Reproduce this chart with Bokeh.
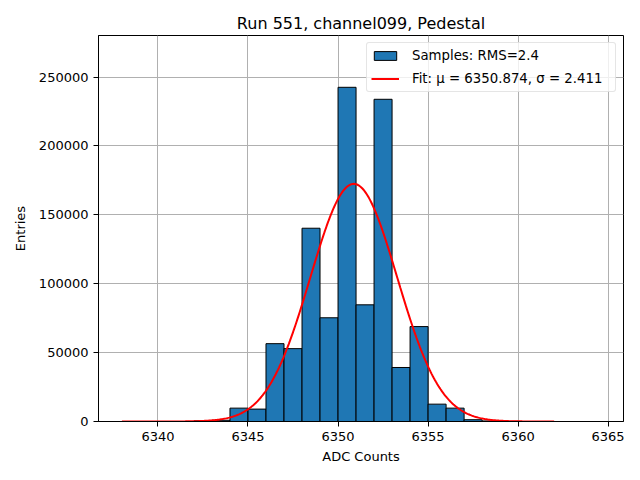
import numpy as np
from bokeh.plotting import figure
from bokeh.models import FixedTicker, Range1d, Legend, LegendItem, NumeralTickFormatter
from bokeh.embed import file_html
from bokeh.resources import INLINE

# Histogram data (bin edges at integers)
bin_left = [6342, 6343, 6344, 6345, 6346, 6347, 6348, 6349, 6350, 6351,
            6352, 6353, 6354, 6355, 6356, 6357, 6358, 6359]
counts = [500, 900, 9700, 9000, 56500, 52900, 140300, 75300, 242600, 84700,
          233900, 39200, 68900, 12600, 9700, 1300, 400, 100]

# Fit parameters
fit_mu = 6350.874
fit_sigma = 2.411
fit_amp = 172500
fit_start = 6338
fit_stop = 6362

x_ticks = [6340, 6345, 6350, 6355, 6360, 6365]
y_ticks = [0, 50000, 100000, 150000, 200000, 250000]

title = "Run 551, channel099, Pedestal"
rms_label = "Samples: RMS=2.4"
fit_label = "Fit: μ = 6350.874, σ = 2.411"

FONT = "DejaVu Sans"

p = figure(width=624, height=470, output_backend="svg", toolbar_location=None,
           x_range=Range1d(6336.7, 6365.85), y_range=Range1d(0, 280200),
           min_border_left=98, min_border_right=1, min_border_top=35, min_border_bottom=49)

p.title.text = title
p.title.align = "center"
p.title.text_font = FONT
p.title.text_font_size = "16px"
p.title.text_font_style = "normal"
p.title.text_color = "black"
p.title.standoff = 6

left = np.array(bin_left, dtype=float)
bars = p.quad(left=left, right=left + 1, bottom=0, top=counts,
              fill_color="#1f77b4", line_color="black", line_width=1)

xs = np.linspace(fit_start, fit_stop, 400)
ys = fit_amp * np.exp(-0.5 * ((xs - fit_mu) / fit_sigma) ** 2)
fit = p.line(xs, ys, line_color="red", line_width=2)

for ax in (p.xaxis[0], p.yaxis[0]):
    ax.major_label_text_font = FONT
    ax.major_label_text_font_size = "13px"
    ax.axis_label_text_font = FONT
    ax.axis_label_text_font_size = "13px"
    ax.axis_label_text_font_style = "normal"
    ax.axis_label_text_color = "black"
    ax.major_tick_out = 5
    ax.major_tick_in = 0
    ax.minor_tick_out = 0
    ax.minor_tick_in = 0
    ax.axis_line_color = "black"
    ax.major_tick_line_color = "black"
    ax.major_label_text_color = "black"

p.xaxis.ticker = FixedTicker(ticks=x_ticks)
p.yaxis.ticker = FixedTicker(ticks=y_ticks)
p.yaxis.formatter = NumeralTickFormatter(format="0")
p.yaxis.major_label_orientation = "horizontal"
p.xaxis.axis_label = "ADC Counts"
p.yaxis.axis_label = "Entries"
p.xaxis.axis_label_standoff = 5
p.yaxis.axis_label_standoff = 8

p.grid.grid_line_color = "#b0b0b0"
p.grid.grid_line_width = 1
p.outline_line_color = "black"
p.outline_line_alpha = 1
p.outline_line_width = 1
p.background_fill_color = "white"
p.border_fill_color = "white"

legend = Legend(items=[LegendItem(label=rms_label, renderers=[bars]),
                       LegendItem(label=fit_label, renderers=[fit])],
                location="top_right")
legend.label_text_font = FONT
legend.label_text_font_size = "13.3px"
legend.label_text_color = "black"
legend.glyph_width = 28
legend.glyph_height = 11
legend.label_height = 17
legend.label_width = 199
legend.spacing = 6
legend.padding = 4
legend.margin = 7
legend.label_standoff = 13
legend.border_line_color = "#cccccc"
legend.border_line_width = 1
legend.background_fill_alpha = 0.8
legend.border_radius = 3
p.add_layout(legend)

open("out.html", "w").write(file_html(p, INLINE))
